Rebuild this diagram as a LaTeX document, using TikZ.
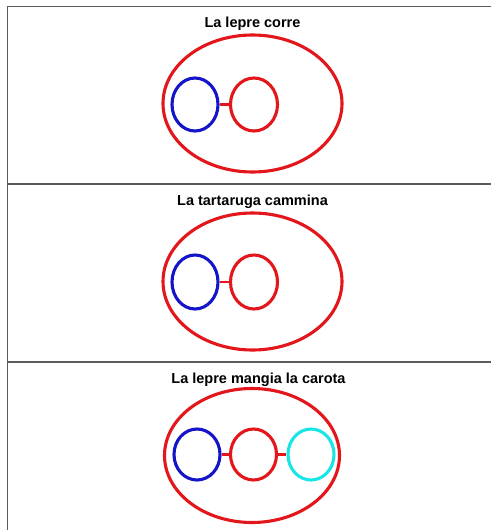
\documentclass[tikz,border=0pt]{standalone}
\usepackage{fontspec}
\setmainfont{Liberation Sans}
\usetikzlibrary{shapes.geometric}
\definecolor{myred}{HTML}{E3161B}
\definecolor{myblue}{HTML}{1414C8}
\definecolor{mycyan}{HTML}{18E6E6}
\definecolor{frame}{HTML}{5A5A5A}
\tikzset{
  outer/.style={ellipse, draw=myred, line width=3.1pt, minimum width=179pt, minimum height=137pt, inner sep=0pt},
  ring/.style={ellipse, line width=3.1pt, minimum width=46pt, minimum height=53pt, inner sep=0pt},
  link/.style={draw=myred, line width=2.6pt},
  title/.style={font=\bfseries\fontsize{14.5}{16}\selectfont, inner sep=0pt},
  rule/.style={draw=frame, line width=1.8pt}
}
\begin{document}
\begin{tikzpicture}[x=1pt,y=-1pt]
\useasboundingbox (0,0) rectangle (491,530);
% frame
\coordinate (tl) at (7.5,6.5);
\coordinate (tr) at (491,6.5);
\coordinate (bl) at (7.5,530);
\coordinate (d1l) at (7.5,184);
\coordinate (d1r) at (491,184);
\coordinate (d2l) at (7.5,362);
\coordinate (d2r) at (491,362);
\draw[rule] (tr) -- (tl) -- (bl);
\draw[rule] (d1l) -- (d1r);
\draw[rule] (d2l) -- (d2r);
% panel 1
\node[title] (t1) at (252.5,23.5) {La lepre corre};
\node[outer] (e1) at (252.5,103.5) {};
\node[ring, draw=myblue] (b1) at (195,104.5) {};
\node[ring, draw=myred, minimum width=47pt] (r1) at (254,104.5) {};
\draw[link] (b1.east) -- (r1.west);
% panel 2
\node[title] (t2) at (252.5,202) {La tartaruga cammina};
\node[outer] (e2) at (252.5,281.5) {};
\node[ring, draw=myblue, minimum height=54pt] (b2) at (195,282) {};
\node[ring, draw=myred, minimum width=47pt, minimum height=54pt] (r2) at (254,282) {};
\draw[link] (b2.east) -- (r2.west);
% panel 3
\node[title] (t3) at (258.5,379.5) {La lepre mangia la carota};
\node[outer, minimum width=175pt, minimum height=134pt] (e3) at (252,455.5) {};
\node[ring, draw=myblue, minimum height=51pt] (b3) at (197,454.5) {};
\node[ring, draw=myred, minimum height=51pt] (r3) at (253.5,454.5) {};
\node[ring, draw=mycyan, minimum height=51pt] (c3) at (311,454.5) {};
\draw[link] (b3.east) -- (r3.west);
\draw[link] (r3.east) -- (c3.west);
\end{tikzpicture}
\end{document}
